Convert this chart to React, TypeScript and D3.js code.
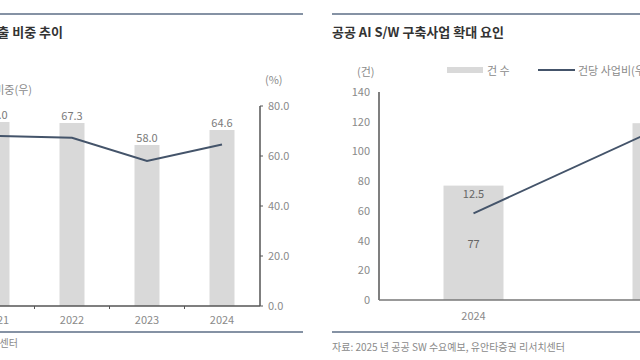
import React from "react";
import * as d3 from "d3";

// Left chart data
const leftYears = ["2021", "2022", "2023", "2024"];
const leftBarValues = [1840, 1830, 1610, 1760];
const leftShare = [68.0, 67.3, 58.0, 64.6];
const leftTicks = [0, 20, 40, 60, 80];

// Right chart data
const rightYears = ["2024", "2025"];
const rightCounts = [77, 119];
const rightPerProject = [12.5, 25.0];
const rightTicks = [0, 20, 40, 60, 80, 100, 120, 140];

const FONT = "'Noto Sans CJK KR', 'Noto Sans', sans-serif";
const RULE = "#5d6e86";
const LINE = "#44546a";
const BAR = "#d9d9d9";
const TXT = "#8a8a8a";

export default function App() {
  // Left chart scales
  const lx = d3.scaleBand<string>().domain(leftYears).range([-40.5, 259.5]).padding(0);
  const lBar = d3.scaleLinear().domain([0, 2000]).range([306, 106]);
  const lY = d3.scaleLinear().domain([0, 80]).range([306, 106]);
  const lBw = lx.bandwidth() / 3;
  const lLine = d3
    .line<number>()
    .x((_, i) => (lx(leftYears[i]) as number) + lx.bandwidth() / 2)
    .y((d) => lY(d));

  // Right chart scales
  const rx = d3.scaleBand<string>().domain(rightYears).range([379, 757]).padding(0);
  const rY = d3.scaleLinear().domain([0, 140]).range([300, 92]);
  const rY2 = d3.scaleLinear().domain([0, 30]).range([300, 92]);
  const rBw = 60;
  const rLine = d3
    .line<number>()
    .x((_, i) => (rx(rightYears[i]) as number) + rx.bandwidth() / 2)
    .y((d) => rY2(d));

  return (
    <svg
      width={640}
      height={360}
      style={{ position: "absolute", left: 0, top: 0, background: "#fff" }}
      fontFamily={FONT}
    >
      {/* ---------- Left chart ---------- */}
      <line x1={0} x2={303} y1={14} y2={14} stroke={RULE} strokeWidth={1.5} />
      <text x={63} y={37} textAnchor="end" fontSize={13} fontWeight={700} fill="#333">
        매출 비중 추이
      </text>
      <text x={32} y={94} textAnchor="end" fontSize={11} fill={TXT}>
        비중(우)
      </text>
      <text x={265} y={84} fontSize={11} fill={TXT}>
        (%)
      </text>

      {leftYears.map((y, i) => {
        const cx = (lx(y) as number) + lx.bandwidth() / 2;
        return (
          <rect
            key={"lb" + y}
            x={cx - lBw / 2}
            y={lBar(leftBarValues[i])}
            width={lBw}
            height={306 - lBar(leftBarValues[i])}
            fill={BAR}
          />
        );
      })}
      <path d={lLine(leftShare) || ""} fill="none" stroke={LINE} strokeWidth={2} />
      {leftYears.map((y, i) => {
        const cx = (lx(y) as number) + lx.bandwidth() / 2;
        return (
          <text
            key={"ll" + y}
            x={cx}
            y={lBar(leftBarValues[i]) - 3}
            textAnchor="middle"
            fontSize={11}
            fill="#7a7a7a"
          >
            {leftShare[i].toFixed(1)}
          </text>
        );
      })}

      {/* left chart x axis */}
      <line x1={0} x2={260} y1={306} y2={306} stroke="#555" strokeWidth={1.5} />
      {leftYears.slice(1).map((y) => (
        <line
          key={"lt" + y}
          x1={lx(y) as number}
          x2={lx(y) as number}
          y1={306}
          y2={309}
          stroke="#555"
          strokeWidth={1}
        />
      ))}
      {leftYears.map((y) => (
        <text
          key={"lxl" + y}
          x={(lx(y) as number) + lx.bandwidth() / 2}
          y={324}
          textAnchor="middle"
          fontSize={11}
          fill={TXT}
        >
          {y}
        </text>
      ))}

      {/* left chart right axis */}
      <line x1={260} x2={260} y1={lY(80)} y2={306} stroke="#555" strokeWidth={1.5} />
      {leftTicks.map((t) => (
        <g key={"lyt" + t}>
          <line x1={260} x2={263} y1={lY(t)} y2={lY(t)} stroke="#555" strokeWidth={1} />
          <text x={268} y={lY(t) + 4} fontSize={11} fill={TXT}>
            {t.toFixed(1)}
          </text>
        </g>
      ))}

      <line x1={0} x2={303} y1={332} y2={332} stroke={RULE} strokeWidth={1.5} />
      <text x={18} y={347} textAnchor="end" fontSize={10} fill={TXT}>
        유안타증권 리서치센터
      </text>

      {/* ---------- Right chart ---------- */}
      <line x1={332} x2={640} y1={14} y2={14} stroke={RULE} strokeWidth={1.5} />
      <text x={332} y={37} fontSize={13} fontWeight={700} fill="#333">
        공공 AI S/W 구축사업 확대 요인
      </text>
      <text x={357} y={76} fontSize={11} fill={TXT}>
        (건)
      </text>
      <rect x={447} y={67} width={36} height={6} fill={BAR} />
      <text x={487} y={75} fontSize={11} fill={TXT}>
        건 수
      </text>
      <line x1={538} x2={575} y1={70} y2={70} stroke={LINE} strokeWidth={2} />
      <text x={578} y={75} fontSize={11} fill={TXT}>
        건당 사업비(우)
      </text>

      {rightYears.map((y, i) => {
        const cx = (rx(y) as number) + rx.bandwidth() / 2;
        return (
          <rect
            key={"rb" + y}
            x={cx - rBw / 2}
            y={rY(rightCounts[i])}
            width={rBw}
            height={300 - rY(rightCounts[i])}
            fill={BAR}
          />
        );
      })}
      <path d={rLine(rightPerProject) || ""} fill="none" stroke={LINE} strokeWidth={2} />
      {rightYears.map((y, i) => {
        const cx = (rx(y) as number) + rx.bandwidth() / 2;
        const top = rY(rightCounts[i]);
        return (
          <g key={"rl" + y}>
            <text x={cx} y={top + 12} textAnchor="middle" fontSize={11} fill="#666">
              {rightPerProject[i].toFixed(1)}
            </text>
            <text x={cx} y={(top + 300) / 2 + 5} textAnchor="middle" fontSize={11} fill="#666">
              {rightCounts[i]}
            </text>
          </g>
        );
      })}

      {/* right chart axes */}
      <line x1={379} x2={379} y1={rY(140)} y2={300} stroke="#555" strokeWidth={1.5} />
      <line x1={379} x2={640} y1={300} y2={300} stroke="#777" strokeWidth={1.5} />
      {rightTicks.map((t) => (
        <text key={"ryt" + t} x={370} y={rY(t) + 4} textAnchor="end" fontSize={11} fill={TXT}>
          {t}
        </text>
      ))}
      {rightYears.map((y) => (
        <text
          key={"rxl" + y}
          x={(rx(y) as number) + rx.bandwidth() / 2}
          y={320}
          textAnchor="middle"
          fontSize={11}
          fill={TXT}
        >
          {y}
        </text>
      ))}

      <line x1={332} x2={640} y1={332} y2={332} stroke={RULE} strokeWidth={1.5} />
      <text x={332} y={351} fontSize={10} fill={TXT}>
        자료: 2025 년 공공 SW 수요예보, 유안타증권 리서치센터
      </text>
    </svg>
  );
}
